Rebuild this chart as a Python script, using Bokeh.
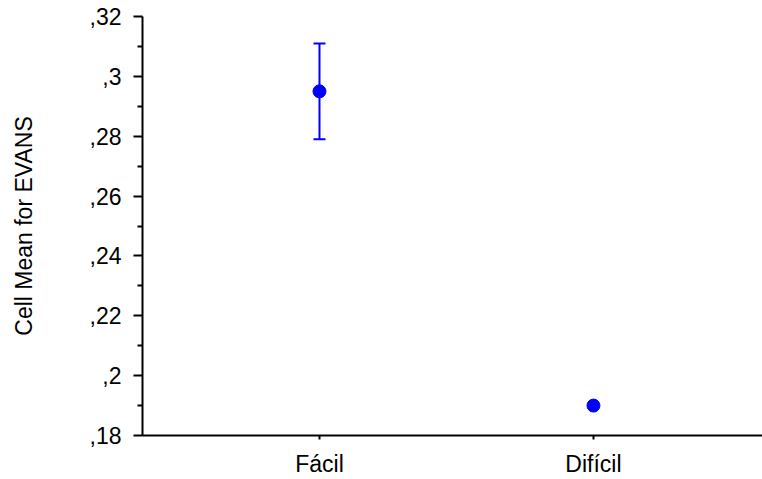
from bokeh.plotting import figure
from bokeh.models import ColumnDataSource, Whisker, FixedTicker, Range1d
from bokeh.embed import file_html
from bokeh.resources import INLINE

# ---- data ----
categories = ["Fácil", "Difícil"]
cat_pos = [0, 1]
means = [0.295, 0.190]
err_lower = [0.279, None]
err_upper = [0.311, None]

y_ticks = [0.18, 0.20, 0.22, 0.24, 0.26, 0.28, 0.30, 0.32]
y_tick_labels = [",18", ",2", ",22", ",24", ",26", ",28", ",3", ",32"]
y_minor = [0.19, 0.21, 0.23, 0.25, 0.27, 0.29, 0.31]
y_label = "Cell Mean for EVANS"

FONT = "Liberation Sans"
BLUE = "#0000FF"
FS = "23px"

p = figure(width=762, height=479, output_backend="svg", toolbar_location=None,
           x_range=Range1d(-0.646, 1.617), y_range=Range1d(0.18, 0.32),
           min_border_left=142, min_border_right=0, min_border_top=16, min_border_bottom=43)
p.outline_line_color = None
p.grid.visible = False
p.background_fill_color = "white"

src = ColumnDataSource(dict(x=cat_pos, y=means))
wx = [x for x, lo in zip(cat_pos, err_lower) if lo is not None]
wlo = [lo for lo in err_lower if lo is not None]
wup = [up for up in err_upper if up is not None]
wsrc = ColumnDataSource(dict(x=wx, lower=wlo, upper=wup))

w = Whisker(base="x", lower="lower", upper="upper", source=wsrc,
            line_color=BLUE, line_width=2, dimension="height")
w.upper_head.size = 12
w.lower_head.size = 12
w.upper_head.line_color = BLUE
w.lower_head.line_color = BLUE
w.upper_head.line_width = 2
w.lower_head.line_width = 2
p.add_layout(w)

p.scatter("x", "y", source=src, size=13, color=BLUE, marker="circle")

# y axis
ya = p.yaxis[0]
ya.ticker = FixedTicker(ticks=y_ticks, minor_ticks=y_minor)
ya.major_label_overrides = {t: l for t, l in zip(y_ticks, y_tick_labels)}
ya.axis_label = y_label
ya.axis_label_text_font = FONT
ya.axis_label_text_font_size = FS
ya.axis_label_text_font_style = "normal"
ya.axis_label_text_color = "black"
ya.axis_label_standoff = 50
ya.major_label_text_font = FONT
ya.major_label_text_font_size = FS
ya.major_label_text_color = "black"
ya.major_label_standoff = 12
ya.major_tick_out = 9
ya.major_tick_in = 0
ya.minor_tick_out = 5
ya.minor_tick_in = 0
ya.axis_line_width = 2
ya.major_tick_line_width = 2
ya.minor_tick_line_width = 2

# x axis
xa = p.xaxis[0]
xa.ticker = FixedTicker(ticks=cat_pos, minor_ticks=[])
xa.major_label_overrides = {t: l for t, l in zip(cat_pos, categories)}
xa.major_label_text_font = FONT
xa.major_label_text_font_size = FS
xa.major_label_text_color = "black"
xa.major_label_standoff = 11
xa.major_tick_out = 4
xa.major_tick_in = 0
xa.minor_tick_out = 0
xa.minor_tick_in = 0
xa.axis_line_width = 2
xa.major_tick_line_width = 2

open("out.html", "w").write(file_html(p, INLINE))
